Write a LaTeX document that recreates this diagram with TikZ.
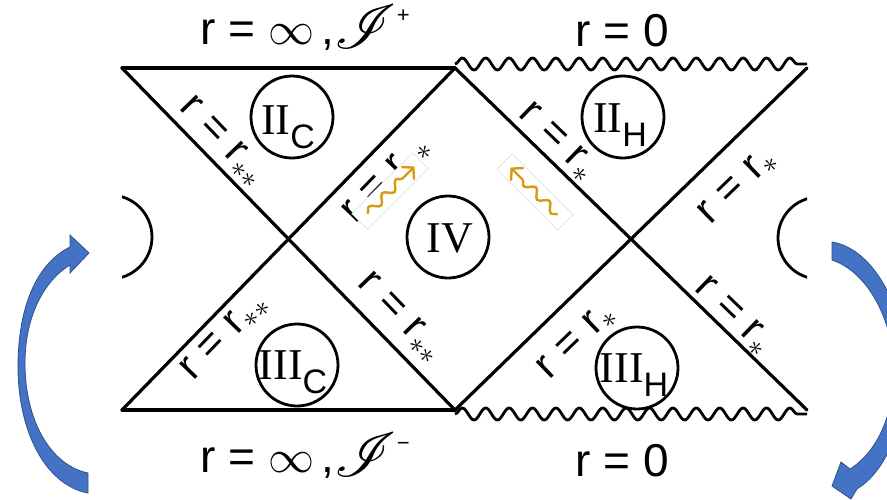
\RequirePackage{fix-cm}
\documentclass[tikz,border=0pt]{standalone}
\usepackage{fontspec}
\setmainfont{Liberation Sans}
\newfontfamily\numfont{Liberation Serif}
\usepackage{mathrsfs}
\usetikzlibrary{decorations.pathmorphing,arrows.meta,calc}
\definecolor{orng}{RGB}{214,155,18}
\definecolor{bluefill}{RGB}{68,114,196}
\definecolor{blueedge}{RGB}{47,82,143}
\tikzset{
  ln/.style={line width=3.2pt, line cap=round},
  wavy/.style={line width=2.8pt, decorate, decoration={snake, amplitude=6pt, segment length=23.4pt}},
  reg/.style={circle, draw, line width=2.8pt, minimum size=82pt, inner sep=0pt},
  dlab/.style={font=\fontsize{42}{46}\selectfont, inner sep=0pt},
  biglab/.style={font=\fontsize{46}{50}\selectfont, inner sep=0pt},
  numlab/.style={font=\fontsize{44}{48}\selectfont\numfont, inner sep=0pt},
  wbox/.style={draw=black!15, line width=0.5pt, fill=white, minimum width=86pt, minimum height=22pt, inner sep=0pt},
  warrow/.style={draw=orng, line width=2.4pt, decorate, decoration={snake, amplitude=4pt, segment length=19pt, post length=8pt}, -{Straight Barb[length=8pt,width=18pt]}},
  bluearrow/.style={fill=bluefill, draw=blueedge, line width=0.8pt}
}
\newcommand{\rr}[1]{r\hspace{0.3em}=\hspace{0.3em}r$_{\scriptstyle #1}$}
\newcommand{\numsub}[2]{#1{\fontsize{34}{38}\selectfont\normalfont\raisebox{-14pt}{#2}}}
\newcommand{\scri}[1]{\raisebox{-4pt}{\scalebox{2.5}{$\mathscr{I}$}}\raisebox{22pt}{\fontsize{22}{24}\selectfont #1}}
\begin{document}
\begin{tikzpicture}[x=1pt,y=-1pt]
\useasboundingbox (0,0) rectangle (887,499);
\clip (0,0) rectangle (887,499);
\fill[white] (0,0) rectangle (887,499);

% vertices
\coordinate (TL) at (122,68);
\coordinate (TM) at (455,68);
\coordinate (TR) at (807,68);
\coordinate (BL) at (122,410);
\coordinate (BM) at (455,410);
\coordinate (BR) at (807,410);
\coordinate (TMw) at (455,64);
\coordinate (TRw) at (807,64);
\coordinate (BMw) at (455,414);
\coordinate (BRw) at (807,414);

% half circles at the edges
\begin{scope}
\clip (122,0) rectangle (807,499);
\draw[line width=2.8pt] (110,237) circle[radius=42];
\draw[line width=2.8pt] (819,238) circle[radius=41];
\end{scope}

% boundary lines
\draw[ln] (TL) -- (TM);
\draw[ln] (BL) -- (BM);
\draw[wavy] (TMw) -- (TRw);
\draw[wavy] (BMw) -- (BRw);
\draw[ln] (TL) -- (BM);
\draw[ln] (TM) -- (BL);
\draw[ln] (TM) -- (BR);
\draw[ln] (TR) -- (BM);

% top / bottom labels
\node[biglab, anchor=base] (scriplus) at (305,44) {r = $\infty$\,,\scri{+}};
\node[biglab, anchor=base] (r0top) at (622,46) {r = 0};
\node[biglab, anchor=base] (scriminus) at (305,472) {r = $\infty$\,,\scri{−}};
\node[biglab, anchor=base] (r0bot) at (622,476) {r = 0};

% region circles
\node[reg] (cIIC) at (292,117) {};
\node[reg] (cIIH) at (623,117) {};
\node[reg] (cIV) at (448,237) {};
\node[reg] (cIIIC) at (297,365) {};
\node[reg] (cIIIH) at (637,368) {};
\node[numlab] (tIIC) at (288,127) {\numsub{II}{C}};
\node[numlab] (tIIH) at (620,125) {\numsub{II}{H}};
\node[numlab] (tIV) at (450,238) {IV};
\node[numlab] (tIIIC) at (293,372) {\numsub{III}{C}};
\node[numlab] (tIIIH) at (634,375) {\numsub{III}{H}};

% diagonal labels
\node[dlab, rotate=-46] (l1) at (222,142) {\rr{\ast\ast}};
\node[dlab, rotate=46] (l2) at (387,180) {\rr{\ast\ast}};
\node[dlab, rotate=46] (l3) at (225,337) {\rr{\ast\ast}};
\node[dlab, rotate=-46] (l4) at (400,318) {\rr{\ast\ast}};
\node[dlab, rotate=-44] (l5) at (557,142) {\rr{\ast}};
\node[dlab, rotate=44] (l6) at (738,187) {\rr{\ast}};
\node[dlab, rotate=44] (l7) at (577,342) {\rr{\ast}};
\node[dlab, rotate=-44] (l8) at (733,316) {\rr{\ast}};

% orange wavy arrows in white boxes
\node[wbox, rotate=45] (b1) at (390,191) {};
\node[wbox, rotate=-45] (b2) at (535,192) {};
\draw[warrow] ($(b1.west)!0.13!(b1.east)$) -- ($(b1.west)!0.9!(b1.east)$);
\draw[warrow] ($(b2.east)!0.13!(b2.west)$) -- ($(b2.east)!0.9!(b2.west)$);

% blue curved arrows
\path[bluearrow] (88,493) .. controls (45,485) and (17,430) .. (18,363)
  .. controls (19,300) and (40,262) .. (70,247) -- (70,235) -- (89,253) -- (70,273) -- (70,265)
  .. controls (45,280) and (25,315) .. (25,363)
  .. controls (25,420) and (50,465) .. (88,473) -- cycle;
\path[bluearrow] (832,242) -- (832,260) .. controls (868,272) and (893,320) .. (894,370)
  .. controls (894,415) and (877,452) .. (850,469) -- (841,462) -- (832,486) -- (851,499) -- (857,489)
  .. controls (890,468) and (905,420) .. (905,365)
  .. controls (903,300) and (870,248) .. (832,242) -- cycle;
\end{tikzpicture}
\end{document}
